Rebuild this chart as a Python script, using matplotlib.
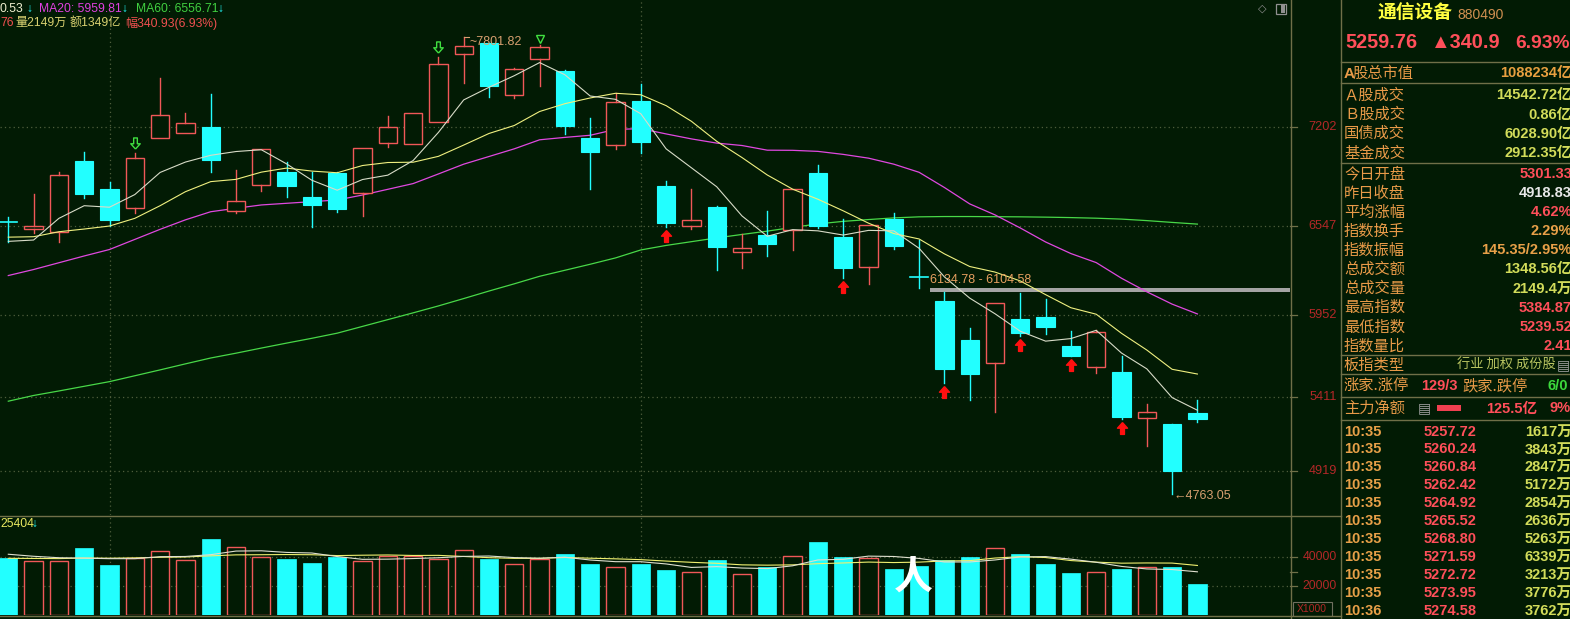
import matplotlib
matplotlib.use('Agg')
import matplotlib.pyplot as plt
import matplotlib.transforms as mtransforms
from matplotlib.patches import Rectangle
from matplotlib.lines import Line2D
from matplotlib.path import Path

W, H = 1570, 619

# ---------------- 数据 ----------------
opens = [6576, 6524, 6506, 6976, 6790, 6662, 7131, 7160, 7202, 6643,
         6819, 6901, 6735, 6894, 6765, 7094, 7087, 7237, 7685, 7758,
         7413, 7652, 7574, 7129, 7084, 7375, 6810, 6542, 6670, 6373,
         6484, 6518, 6894, 6469, 6274, 6589, 6210, 6046, 5787, 5632,
         5926, 5939, 5747, 5610, 5576, 5270, 5226, 5301.33]
highs = [6604, 6755, 6901, 7034, 6835, 7027, 7530, 7293, 7421, 6916,
         7056, 6967, 6905, 6900, 7060, 7275, 7293, 7669, 7801.82, 7760,
         7596, 7747, 7580, 7260, 7426, 7486, 6845, 6788, 6679, 6491,
         6644, 6788, 6950, 6589, 6549, 6629, 6451, 6104.58, 5864, 6034,
         6100, 6059, 5846, 5853, 5680, 5362, 5230, 5384.87]
lows = [6438, 6496, 6440, 6728, 6542, 6628, 7131, 7160, 6905, 6629,
        6779, 6735, 6535, 6640, 6611, 7067, 7087, 7237, 7492, 7403,
        7397, 7474, 7155, 6792, 7058, 7027, 6535, 6522, 6252, 6265,
        6347, 6385, 6530, 6197, 6159, 6391, 6134.78, 5503, 5388, 5306,
        5815, 5824, 5680, 5565, 5262, 5082, 4763.05, 5239.52]
closes = [6571, 6544, 6883, 6759, 6586, 6994, 7280, 7227, 6985, 6708,
          7056, 6808, 6682, 6658, 7060, 7200, 7293, 7619, 7740, 7476,
          7585, 7732, 7211, 7038, 7366, 7104, 6566, 6582, 6407, 6396,
          6427, 6788, 6544, 6267, 6549, 6413, 6207, 5594, 5563, 6030,
          5833, 5875, 5680, 5838, 5275, 5308, 4918.83, 5259.76]

ma5 = [6442, 6451, 6595, 6679, 6669, 6753, 6900, 6969, 7014, 7039,
       7051, 6957, 6848, 6782, 6853, 6882, 6979, 7166, 7382, 7466,
       7543, 7630, 7549, 7408, 7386, 7290, 7057, 6931, 6805, 6611,
       6476, 6520, 6512, 6484, 6515, 6512, 6396, 6206, 6065, 5961,
       5845, 5779, 5796, 5851, 5700, 5595, 5404, 5320]
ma10 = [6470, 6473, 6506, 6524, 6544, 6595, 6679, 6772, 6839, 6854,
        6902, 6929, 6909, 6898, 6946, 6966, 6968, 7007, 7082, 7159,
        7212, 7305, 7357, 7395, 7426, 7416, 7344, 7240, 7107, 6999,
        6883, 6789, 6722, 6645, 6563, 6494, 6458, 6359, 6275, 6238,
        6179, 6088, 6001, 5958, 5831, 5720, 5592, 5560.53]
ma20 = [6215, 6255, 6300, 6345, 6388, 6455, 6522, 6585, 6639, 6662,
        6684, 6695, 6706, 6717, 6750, 6788, 6826, 6890, 6955, 7006,
        7057, 7117, 7133, 7147, 7186, 7191, 7156, 7123, 7095, 7079,
        7048, 7047, 7040, 7020, 6995, 6955, 6901, 6800, 6691, 6618,
        6531, 6438, 6361, 6301, 6197, 6107, 6025, 5959.81]
ma60 = [5380, 5418, 5448, 5479, 5510, 5549, 5588, 5628, 5667, 5699,
        5733, 5766, 5798, 5832, 5877, 5922, 5967, 6013, 6062, 6112,
        6160, 6210, 6250, 6290, 6332, 6385, 6415, 6440, 6465, 6488,
        6510, 6535, 6558, 6575, 6587, 6598, 6605, 6607, 6607, 6606,
        6605, 6603, 6600, 6596, 6590, 6580, 6568, 6556.71]

# 成交量 (X1000)
volumes = [39100, 37240, 37240, 46210, 34480, 39100, 44140, 37930, 52420, 46900,
           40000, 38620, 35860, 40210, 37240, 40690, 40690, 38620, 44830, 38620,
           35170, 38620, 42070, 35170, 32870, 35000, 31000, 30000, 38000, 28000,
           33000, 40690, 50140, 40210, 39000, 31700, 34000, 37930, 40210, 46000,
           42070, 35170, 29170, 29450, 31700, 33310, 33100, 21380]
vol_ma5 = [41900, 40500, 39500, 39200, 38850, 38850, 40230, 40370, 41610, 44100,
           44280, 43170, 42760, 40320, 38390, 38520, 38940, 39490, 40410, 40690,
           39590, 39170, 39860, 37930, 36780, 36750, 35220, 32810, 33370, 32400,
           32000, 33940, 37970, 38410, 40610, 40350, 39010, 36570, 36570, 37970,
           40040, 40280, 38520, 36370, 33510, 31760, 31350, 29790]
vol_ma10 = [39100, 39000, 38900, 39300, 39200, 39400, 39800, 40000, 40800, 41480,
            41570, 41700, 41570, 40970, 41240, 41400, 41060, 41130, 40370, 39540,
            39060, 39060, 39680, 39170, 38740, 38170, 37200, 36340, 35650, 34590,
            34370, 34580, 35390, 35890, 36500, 36170, 36470, 37270, 37490, 39290,
            40200, 39640, 37550, 36470, 35740, 35900, 35810, 34160]

price_ticks = [7202, 6547, 5952, 5411, 4919]
vol_ticks = [40000, 20000]
red_arrow_idx = [26, 33, 37, 40, 42, 44]
green_arrow_idx = [5, 17]
green_tri_idx = [21]
gap_high, gap_low = 6134.78, 6104.58
month_lines = [4, 25]

info_rows = [
    ('Ａ股成交', '14542.72亿', 'yg'),
    ('Ｂ股成交', '0.86亿', 'yg'),
    ('国债成交', '6028.90亿', 'yg'),
    ('基金成交', '2912.35亿', 'yg'),
]
info_rows2 = [
    ('今日开盘', '5301.33', 'red'),
    ('昨日收盘', '4918.83', 'white'),
    ('平均涨幅', '4.62%', 'red'),
    ('指数换手', '2.29%', 'org'),
    ('指数振幅', '145.35/2.95%', 'org'),
    ('总成交额', '1348.56亿', 'yg'),
    ('总成交量', '2149.4万', 'yg'),
    ('最高指数', '5384.87', 'red'),
    ('最低指数', '5239.52', 'red'),
    ('指数量比', '2.41', 'red'),
]
tick_times = ['10:35'] * 10 + ['10:36']
tick_prices = ['5257.72', '5260.24', '5260.84', '5262.42', '5264.92', '5265.52',
               '5268.80', '5271.59', '5272.72', '5273.95', '5274.58']
tick_vols = ['1617万', '3843万', '2847万', '5172万', '2854万', '2636万',
             '5263万', '6339万', '3213万', '3776万', '3762万']

# ---------------- 样式 ----------------
BG = '#021b04'
CYAN = '#22ffff'
RED = '#f05858'
GRID = '#4f5e3c'
FRAME = '#707048'
C = {'red': '#ff4f5a', 'org': '#e8a048', 'yg': '#d2dc5a', 'white': '#e8e8e8',
     'green': '#3cd83c', 'label': '#e89a48'}
CJK = ['Noto Sans CJK SC', 'DejaVu Sans']
NUM = ['Liberation Sans', 'Noto Sans CJK SC', 'DejaVu Sans']

fig = plt.figure(figsize=(W / 100, H / 100), dpi=100, facecolor=BG)


def box(x0, y0, x1, y1):
    return [x0 / W, 1 - y1 / H, (x1 - x0) / W, (y1 - y0) / H]


def ftext(x, y, s, color, size=11, ha='left', weight='normal', family=CJK):
    fig.text(x / W, 1 - y / H, s, color=color, fontsize=size, ha=ha, va='center',
             fontweight=weight, family=family)


def fline(x0, y0, x1, y1, color=FRAME, lw=1.0):
    fig.add_artist(Line2D([x0 / W, x1 / W], [1 - y0 / H, 1 - y1 / H],
                          transform=fig.transFigure, color=color, lw=lw))


# 坐标: 第i根K线中心 x = 8.3 + 25.3*i 像素
x_lo = -8.3 / 25.3
x_hi = (1290 - 8.3) / 25.3

ax = fig.add_axes(box(0, 0, 1290, 515))
ax.set_facecolor(BG)
ax.set_xlim(x_lo, x_hi)
ax.set_ylim(7202 - 388 * 6.645, 7202 + 127 * 6.645)
ax.axis('off')

axv = fig.add_axes(box(0, 517, 1290, 615))
axv.set_facecolor(BG)
axv.set_xlim(x_lo, x_hi)
axv.set_ylim(0, 98 * 689.7)
axv.axis('off')

# 网格
for p in price_ticks:
    ax.axhline(p, color=GRID, lw=0.9, ls=(0, (1, 2.5)), zorder=0)
for v in vol_ticks:
    axv.axhline(v, color=GRID, lw=0.9, ls=(0, (1, 2.5)), zorder=0)
for m in month_lines:
    ax.axvline(m, color=GRID, lw=0.9, ls=(0, (1, 2.5)), zorder=0)
    axv.axvline(m, color=GRID, lw=0.9, ls=(0, (1, 2.5)), zorder=0)

# 缺口带
ax.add_patch(Rectangle((36.43, gap_low), x_hi - 36.43, gap_high - gap_low,
                       facecolor='#a4a4a4', edgecolor='none', zorder=1))
ax.text(36.45, gap_high, '6134.78 - 6104.58', color='#e8a060', fontsize=9,
        family=NUM, ha='left', va='bottom', zorder=5,
        transform=mtransforms.offset_copy(ax.transData, fig, x=0, y=2, units='dots'))

# K线
bw = 0.72
for i in range(len(closes)):
    o, h, l, c = opens[i], highs[i], lows[i], closes[i]
    top, bot = max(o, c), min(o, c)
    if c >= o:
        ax.add_patch(Rectangle((i - bw / 2, bot), bw, max(top - bot, 1), facecolor=BG,
                               edgecolor=RED, lw=1.0, zorder=3))
        ax.plot([i, i], [top, h], color=RED, lw=1.0, zorder=3)
        ax.plot([i, i], [l, bot], color=RED, lw=1.0, zorder=3)
    else:
        ax.plot([i, i], [l, h], color=CYAN, lw=1.0, zorder=3)
        if top - bot < 10:
            ax.plot([i - bw / 2, i + bw / 2], [c, c], color=CYAN, lw=1.2, zorder=3)
        else:
            ax.add_patch(Rectangle((i - bw / 2, bot), bw, top - bot, facecolor=CYAN,
                                   edgecolor=CYAN, lw=0.8, zorder=3))

# 均线
xs = list(range(len(closes)))
ax.plot(xs, ma60, color='#48d848', lw=0.9, zorder=2)
ax.plot(xs, ma20, color='#e048e0', lw=0.9, zorder=2)
ax.plot(xs, ma10, color='#f0f080', lw=0.8, zorder=4)
ax.plot(xs, ma5, color='#d8dcc8', lw=0.8, zorder=4)

# 标记
up_arrow = Path([(0, 1), (0.85, 0.05), (0.33, 0.05), (0.33, -1), (-0.33, -1),
                 (-0.33, 0.05), (-0.85, 0.05), (0, 1)])
down_arrow = Path([(0, -1), (0.85, -0.05), (0.33, -0.05), (0.33, 1), (-0.33, 1),
                   (-0.33, -0.05), (-0.85, -0.05), (0, -1)])
below = mtransforms.offset_copy(ax.transData, fig, x=0, y=-9, units='dots')
above = mtransforms.offset_copy(ax.transData, fig, x=0, y=10, units='dots')
above_t = mtransforms.offset_copy(ax.transData, fig, x=0, y=6, units='dots')
for i in red_arrow_idx:
    ax.plot(i, lows[i], marker=up_arrow, ms=8.5, color='#ff1010', mec='#ff1010',
            transform=below, zorder=6)
for i in green_arrow_idx:
    ax.plot(i, highs[i], marker=down_arrow, ms=8, mfc='none', mec='#40e040', mew=1.0,
            transform=above, zorder=6)
for i in green_tri_idx:
    ax.plot(i, highs[i], marker='v', ms=6, mfc='none', mec='#40e040', mew=1.0,
            transform=above_t, zorder=6)

# 最高最低标注
hi_i = highs.index(max(highs))
lo_i = lows.index(min(lows))
ax.plot([hi_i, hi_i + 0.2], [max(highs), max(highs)], color='#d8a070', lw=0.8, zorder=6)
ax.text(hi_i + 0.22, max(highs), '~%.2f' % max(highs), color='#d8a070', fontsize=9,
        family=NUM, ha='left', va='center', zorder=6,
        transform=mtransforms.offset_copy(ax.transData, fig, x=0, y=-5, units='dots'))
ax.text(lo_i, min(lows), '←%.2f' % min(lows), color='#d8a070', fontsize=9,
        family=NUM, ha='left', va='center', zorder=6,
        transform=mtransforms.offset_copy(ax.transData, fig, x=1, y=-2, units='dots'))

# 价格刻度
bt = mtransforms.blended_transform_factory(ax.transAxes, ax.transData)
for p in price_ticks:
    ax.plot([1.0, 1297 / 1290], [p, p], color=FRAME, lw=0.9, transform=bt, clip_on=False)
    ax.text(1337 / 1290, p, str(p), color='#b42828', fontsize=9.2, family=NUM,
            ha='right', va='center', transform=bt)

# 成交量
for i, v in enumerate(volumes):
    if closes[i] >= opens[i]:
        axv.add_patch(Rectangle((i - bw / 2, 0), bw, v, facecolor=BG, edgecolor=RED,
                                lw=1.0, zorder=3))
    else:
        axv.add_patch(Rectangle((i - bw / 2, 0), bw, v, facecolor=CYAN, edgecolor=CYAN,
                                lw=0.5, zorder=3))
axv.plot(xs, vol_ma10, color='#f0f070', lw=0.8, zorder=4)
axv.plot(xs, vol_ma5, color='#e0e0d0', lw=0.8, zorder=4)
btv = mtransforms.blended_transform_factory(axv.transAxes, axv.transData)
for v in vol_ticks + [30000]:
    axv.plot([1.0, 1297 / 1290], [v, v], color=FRAME, lw=0.9, transform=btv, clip_on=False)
for v in vol_ticks:
    axv.text(1337 / 1290, v, str(v), color='#b42828', fontsize=8.8, family=NUM,
             ha='right', va='center', transform=btv)
axv.text(913 / 1290, 0.38, '人', color='white', fontsize=28, family=CJK,
         fontweight='bold', ha='center', va='center', transform=axv.transAxes, zorder=7)

# 框线
fline(1291, 0, 1291, 619)
fline(1341, 0, 1341, 619)
fline(0, 515.5, 1341, 515.5)
fline(0, 616, 1341, 616)
fig.add_artist(Rectangle((1293 / W, 1 - 616 / H), 39 / W, 14 / H, transform=fig.transFigure,
                         facecolor='none', edgecolor='#707060', lw=0.8))
ftext(1312, 609, 'X1000', '#b42828', size=7.5, ha='center', family=NUM)

# 图标
ftext(1262, 9, '◇', '#909090', size=8, ha='center', family=['DejaVu Sans'])
fig.add_artist(Rectangle((1276 / W, 1 - 14 / H), 10 / W, 10 / H, transform=fig.transFigure,
                         facecolor='none', edgecolor='#909090', lw=0.9))
fig.add_artist(Rectangle((1281 / W, 1 - 13 / H), 4 / W, 8 / H, transform=fig.transFigure,
                         facecolor='#909090', edgecolor='none'))

# 顶部均线说明
HF = 8.7
ftext(0, 9, '0.53', '#f0f0d0', size=HF, family=NUM)
ftext(26, 9, '↓', CYAN, size=HF, family=NUM)
ftext(39, 9, 'MA20: 5959.81', '#e040e0', size=HF, family=NUM)
ftext(121, 9, '↓', CYAN, size=HF, family=NUM)
ftext(135.5, 9, 'MA60: 6556.71', '#40d040', size=HF, family=NUM)
ftext(217, 9, '↓', CYAN, size=HF, family=NUM)
ftext(0, 23, '76', '#f05050', size=HF, family=NUM)
ftext(15, 23, '量2149万', '#d8d070', size=HF, family=NUM)
ftext(70, 23, '额1349亿', '#d8d070', size=HF, family=NUM)
ftext(125, 23, '幅340.93(6.93%)', '#f05050', size=HF, family=NUM)
ftext(0, 524, '25404', '#e8e860', size=HF, family=NUM)
ftext(31, 524, '↓', CYAN, size=HF, family=NUM)

# ---------------- 右侧信息栏 ----------------
RX = 1572
ftext(1378, 13.5, '通信设备', '#ffff40', size=13.5, weight='bold')
ftext(1457, 15, '880490', '#d09050', size=10, family=NUM)
ftext(1345, 43, '5259.76', C['red'], size=14.3, weight='bold', family=NUM)
ftext(1431, 43, '▲340.9', C['red'], size=14.3, weight='bold', family=NUM)
ftext(1515, 43, '6.93%', C['red'], size=13.8, weight='bold', family=NUM)
for yy in [62, 83, 163, 355, 374, 397, 420]:
    fline(1341, yy, 1570, yy)

LF = 11
VF = 10.5
ftext(1344, 73.5, 'A', C['label'], size=LF, weight='bold', family=NUM)
ftext(1352, 73.5, '股总市值', C['label'], size=LF)
ftext(RX, 73.5, '1088234亿', '#e8a040', size=VF, ha='right', weight='bold', family=NUM)
for k, (lab, val, col) in enumerate(info_rows):
    y = 95.5 + k * 19.1
    ftext(1344, y, lab, C['label'], size=LF)
    ftext(RX, y, val, C[col], size=VF, ha='right', weight='bold', family=NUM)
for k, (lab, val, col) in enumerate(info_rows2):
    y = 174 + k * 19.1
    ftext(1344, y, lab, C['label'], size=LF)
    ftext(RX, y, val, C[col], size=VF, ha='right', weight='bold', family=NUM)

ftext(1344, 365.5, '板指类型', C['label'], size=LF)
ftext(1457, 365.5, '行业 加权 成份股', '#b8c460', size=9.5)
ftext(1557, 365.5, '▤', '#a0a0a0', size=10, family=['DejaVu Sans'])
ftext(1344, 385.5, '涨家.涨停', C['label'], size=LF)
ftext(1421, 385.5, '129/3', C['red'], size=VF, weight='bold', family=NUM)
ftext(1462, 385.5, '跌家.跌停', C['label'], size=LF)
ftext(1548, 385.5, '6/0', C['green'], size=VF, weight='bold', family=NUM)
ftext(1344, 408.5, '主力净额', C['label'], size=LF)
ftext(1418, 408.5, '▤', '#a0a0a0', size=10, family=['DejaVu Sans'])
fig.add_artist(Rectangle((1437 / W, 1 - 411 / H), 24 / W, 6 / H, transform=fig.transFigure,
                         facecolor='#f04050', edgecolor='none'))
ftext(1486, 408.5, '125.5亿', C['red'], size=VF, weight='bold', family=NUM)
ftext(1549, 408.5, '9%', C['red'], size=VF, weight='bold', family=NUM)

for k in range(len(tick_times)):
    y = 431.5 + k * 17.95
    ftext(1344, y, tick_times[k], C['org'], size=VF, weight='bold', family=NUM)
    ftext(1450, y, tick_prices[k], C['red'], size=VF, ha='center', weight='bold', family=NUM)
    ftext(RX, y, tick_vols[k], C['yg'], size=VF, ha='right', weight='bold', family=NUM)

fig.savefig('out.png', dpi=100, facecolor=BG)
